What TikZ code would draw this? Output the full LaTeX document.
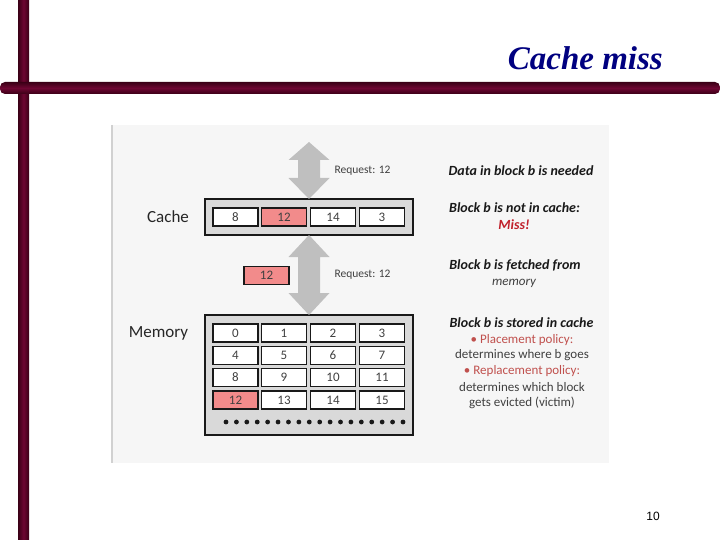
\documentclass[tikz,border=0pt]{standalone}
\usepackage{fontspec}
\setmainfont{Carlito}
\newfontfamily\titlefont{Liberation Serif}
\newfontfamily\arialfont{Liberation Sans}
\usetikzlibrary{calc}
\definecolor{maroonA}{HTML}{3A0016}
\definecolor{maroonB}{HTML}{6E0632}
\definecolor{titleblue}{HTML}{000080}
\definecolor{panelbg}{HTML}{F6F6F6}
\definecolor{boxgray}{HTML}{D9D9D9}
\definecolor{arrowgray}{HTML}{BFBFBF}
\definecolor{hit}{HTML}{F28B8B}
\definecolor{txtgray}{HTML}{404040}
\definecolor{missred}{HTML}{C0202A}
\definecolor{polred}{HTML}{C0504D}
\tikzset{
  cell/.style={draw=black!90, line width=1.5pt, fill=white, minimum width=45pt, minimum height=18pt, inner sep=0pt, text=txtgray, font=\fontsize{13}{14}\selectfont},
  hitcell/.style={cell, fill=hit},
  store/.style={draw=black!90, line width=1.6pt, fill=boxgray},
  bigarrow/.style={fill=arrowgray, draw=none},
  lbl/.style={font=\fontsize{17}{19}\selectfont, text=black!85},
  req/.style={font=\fontsize{11.5}{13}\selectfont, text=txtgray, anchor=west},
  bold/.style={font=\fontsize{14}{16}\selectfont\bfseries\itshape, text=black!90},
  body/.style={font=\fontsize{13}{15}\selectfont, text=txtgray},
  pol/.style={font=\fontsize{13}{15}\selectfont, text=polred},
}
\begin{document}
\begin{tikzpicture}[x=1pt,y=-1pt]
\useasboundingbox (0,0) rectangle (720,540);
\fill[white] (0,0) rectangle (720,540);
% frame bars
\shade[left color=maroonA, right color=maroonA, middle color=maroonB] (18,0) rectangle (29,540);
\shade[top color=maroonA, bottom color=maroonA, middle color=maroonB, rounded corners=5pt] (0,82) rectangle (720,94);
% title
\node[anchor=base east, inner sep=0pt, text=titleblue, font=\titlefont\fontsize{33}{36}\selectfont\bfseries\itshape] (title) at (663,70) {Cache miss};
% panel
\fill[panelbg] (111,125) rectangle (609,463);
\draw[black!18, line width=2pt] (112,125) -- (112,463);
% cache
\node[lbl] (cachelbl) at (168,217) {Cache};
\draw[store] (205,199) rectangle (413,235);
\coordinate (cachetop) at (309,199);
\coordinate (cachebot) at (309,235);
\node[cell] (c0) at (235.5,217) {8};
\node[hitcell] (c1) at (284,217) {12};
\node[cell] (c2) at (333,217) {14};
\node[cell] (c3) at (382,217) {3};
% memory
\node[lbl] (memlbl) at (158.5,333) {Memory};
\draw[store] (205,315) rectangle (413,435);
\coordinate (memtop) at (309,315);
\foreach \r [count=\i from 0] in {0,1,2,3}{
  \foreach \c [count=\j from 0] in {235.5,284,333,382}{
    \pgfmathtruncatemacro\n{4*\r+\j}
    \ifnum\n=12
      \node[hitcell] (m\n) at (\c,{333+22.3*\r}) {\n};
    \else
      \node[cell] (m\n) at (\c,{333+22.3*\r}) {\n};
    \fi
  }
}
\foreach \k in {0,...,17}{
  \fill[black!90] ({226+10.41*\k},422) circle (2.4pt);
}
% arrows
\fill[bigarrow] (cachetop) -- ++(-20.5,-21) -- ++(9.5,0) -- ++(0,-18) -- ++(-9.5,0)
  -- ++(20.5,-18) -- ++(20.5,18) -- ++(-9.5,0) -- ++(0,18) -- ++(9.5,0) -- cycle;
\fill[bigarrow] (cachebot) -- ++(-20.5,22) -- ++(9.5,0) -- ++(0,36) -- ++(-9.5,0)
  -- ($(memtop)$) -- ++(20.5,-22) -- ++(-9.5,0) -- ++(0,-36) -- ++(9.5,0) -- cycle;
\node[req] (req1) at (331,171) {Request: 12};
\node[req] (req2) at (331,275) {Request: 12};
\node[hitcell] (fetched) at (266.5,275.5) {12};
% right texts
\node[bold] (t1) at (521,171) {Data in block b is needed};
\node[bold] (t2) at (514.5,208) {Block b is not in cache:};
\node[bold, text=missred] (t3) at (514,225) {Miss!};
\node[bold] (t4) at (515,265) {Block b is fetched from};
\node[body, font=\fontsize{13}{15}\selectfont\itshape] (t5) at (514,283) {memory};
\node[bold] (t6) at (521.5,323) {Block b is stored in cache};
\node[pol] (t7) at (522,340) {\textbullet\ Placement policy:};
\node[body] (t8) at (522,355.5) {determines where b goes};
\node[pol] (t9) at (522,371) {\textbullet\ Replacement policy:};
\node[body] (t10) at (522,387) {determines which block};
\node[body] (t11) at (522,403) {gets evicted (victim)};
% page number
\node[font=\arialfont\fontsize{12}{14}\selectfont, text=black] (pg) at (653,516) {10};
\end{tikzpicture}
\end{document}
